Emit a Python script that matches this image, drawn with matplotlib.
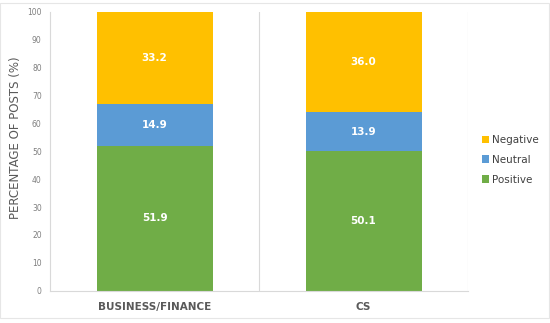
import matplotlib.pyplot as plt
from matplotlib.patches import Rectangle

# data
categories = ['BUSINESS/FINANCE', 'CS']
positive = [51.9, 50.1]
neutral = [14.9, 13.9]
negative = [33.2, 36.0]
y_ticks = [0, 10, 20, 30, 40, 50, 60, 70, 80, 90, 100]

colors = {'Positive': '#70AD47', 'Neutral': '#5B9BD5', 'Negative': '#FFC000'}

fig = plt.figure(figsize=(5.5, 3.23), dpi=100)
ax = fig.add_axes([0.091, 0.100, 0.760, 0.863])

x = range(len(categories))
width = 0.555
bottom = [0.0] * len(categories)
handles = []
for name, vals in [('Positive', positive), ('Neutral', neutral), ('Negative', negative)]:
    bars = ax.bar(x, vals, width, bottom=bottom, color=colors[name], label=name)
    handles.append(bars)
    for xi, v, b in zip(x, vals, bottom):
        ax.text(xi, b + v / 2, f'{v:.1f}', ha='center', va='center',
                color='white', fontsize=7.5, fontweight='bold')
    bottom = [b + v for b, v in zip(bottom, vals)]

ax.set_xlim(-0.5, 1.5)
ax.set_ylim(0, 100)
ax.set_yticks(y_ticks)
ax.tick_params(axis='y', labelsize=5.5, colors='#7f7f7f', length=0, pad=6)
ax.tick_params(axis='x', length=0, pad=8)
ax.set_xticks(list(x))
ax.set_xticklabels(categories, fontsize=7.5, fontweight='bold', color='#595959')

# category separators, Excel style
for sep in [0.5, 1.5]:
    ax.axvline(sep, color='#d9d9d9', lw=0.8, zorder=0)

for side in ['top', 'right']:
    ax.spines[side].set_visible(False)
ax.spines['left'].set_color('#d9d9d9')
ax.spines['bottom'].set_color('#d9d9d9')
ax.spines['left'].set_linewidth(0.8)
ax.spines['bottom'].set_linewidth(0.8)

ax.set_ylabel('PERCENTAGE OF POSTS (%)', fontsize=8.5, color='#595959')
ax.yaxis.set_label_coords(-0.068, 0.55)

leg = ax.legend(handles[::-1], ['Negative', 'Neutral', 'Positive'],
                loc='center left', bbox_to_anchor=(1.01, 0.47), frameon=False,
                fontsize=7.5, handlelength=0.7, handleheight=0.7,
                handletextpad=0.3, labelspacing=0.95)
for t in leg.get_texts():
    t.set_color('#404040')

# light chart-area border
fig.patches.append(Rectangle((0.0, 0.015), 0.998, 0.975, transform=fig.transFigure,
                             fill=False, edgecolor='#e6e6e6', lw=0.8))

fig.savefig('out.png', dpi=100)
